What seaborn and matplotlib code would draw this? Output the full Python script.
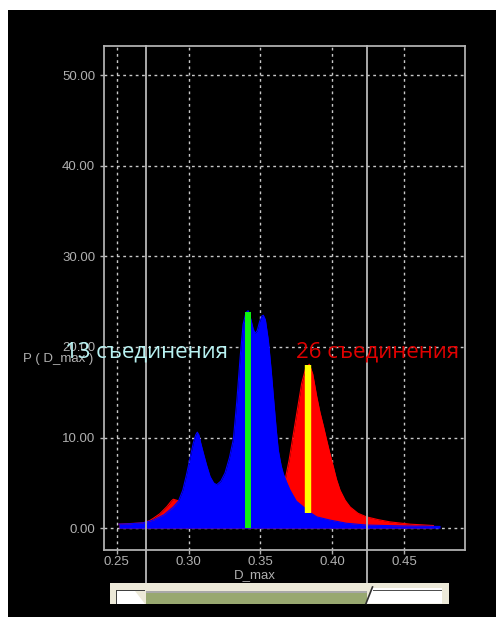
import numpy as np
import pandas as pd
import matplotlib
matplotlib.use("Agg")
import matplotlib.pyplot as plt
import matplotlib.patches as mpatches
import seaborn as sns

# ---- data -------------------------------------------------------------
blue_x = [0.2516, 0.2600, 0.2685, 0.2755, 0.2830, 0.2894, 0.2930, 0.2960,
          0.2987, 0.3010, 0.3033, 0.3050, 0.3061, 0.3072, 0.3085, 0.3103,
          0.3125, 0.3150, 0.3175, 0.3196, 0.3225, 0.3254, 0.3285, 0.3312,
          0.3336, 0.3360, 0.3380, 0.3400, 0.3415, 0.3435, 0.3450, 0.3463,
          0.3478, 0.3495, 0.3510, 0.3521, 0.3535, 0.3556, 0.3575, 0.3591,
          0.3610, 0.3625, 0.3645, 0.3660, 0.3685, 0.3707, 0.3750, 0.3800,
          0.3850, 0.3893, 0.3985, 0.4100, 0.4240, 0.4500, 0.4751]
blue_y = [0.45, 0.50, 0.60, 0.90, 1.50, 2.35, 3.00, 4.20,
          6.00, 7.70, 9.40, 10.3, 10.6, 10.3, 9.40, 8.30,
          7.00, 5.70, 5.00, 4.80, 5.20, 6.10, 7.80, 9.80,
          14.0, 19.0, 22.5, 23.8, 24.0, 23.0, 22.0, 21.5,
          21.8, 22.8, 23.4, 23.5, 23.0, 20.7, 17.5, 14.5,
          11.0, 8.60, 6.90, 6.00, 5.00, 4.20, 3.00, 2.35,
          1.70, 1.25, 0.90, 0.55, 0.35, 0.25, 0.20]

red_x = [0.2516, 0.2685, 0.2730, 0.2755, 0.2800, 0.2850, 0.2880, 0.2894,
         0.2915, 0.2935, 0.3000, 0.3200, 0.3400, 0.3600, 0.3672, 0.3700,
         0.3730, 0.3760, 0.3788, 0.3815, 0.3841, 0.3865, 0.3893, 0.3915,
         0.3940, 0.3962, 0.3985, 0.4008, 0.4030, 0.4055, 0.4090, 0.4125,
         0.4180, 0.4240, 0.4320, 0.4403, 0.4542, 0.4650, 0.4705]
red_y = [0.45, 0.60, 0.85, 1.10, 1.60, 2.40, 3.00, 3.20,
         3.10, 3.00, 2.50, 2.50, 2.50, 3.50, 5.30, 7.50,
         10.4, 13.3, 16.0, 17.6, 18.1, 17.0, 14.5, 12.8,
         11.2, 9.70, 8.20, 6.80, 5.40, 4.20, 3.10, 2.35,
         1.65, 1.25, 0.95, 0.70, 0.45, 0.35, 0.30]

green_marker = (0.3411, 23.9)
yellow_marker = (0.3834, 1.65, 18.0)
range_lines = [0.2704, 0.4242]
x_ticks = [0.25, 0.30, 0.35, 0.40, 0.45]
y_ticks = [0.0, 10.0, 20.0, 30.0, 40.0, 50.0]
labels = ["13 съединения", "26 съединения"]

# ---- figure -----------------------------------------------------------
W, H = 496, 617
fig = plt.figure(figsize=(W / 100, H / 100), dpi=100, facecolor="white")

def fx(px):
    return px / W

def fy(py):
    return 1 - py / H

# black panel
fig.patches.append(mpatches.Rectangle((fx(7.5), 0), 1, fy(10), transform=fig.transFigure,
                                      facecolor="black", edgecolor="none", zorder=-5))

L, R, T, B = 103.5, 465, 46, 550
ax = fig.add_axes([fx(L), fy(B), fx(R) - fx(L), fy(T) - fy(B)])
ax.set_facecolor("black")

df_b = pd.DataFrame({"x": blue_x, "y": blue_y})
df_r = pd.DataFrame({"x": red_x, "y": red_y})

ax.fill_between(df_r["x"], 0, df_r["y"], color="#FF0000", linewidth=0, zorder=2)
sns.lineplot(data=df_r, x="x", y="y", ax=ax, color="#FF0000", linewidth=0.8, zorder=2)
ax.fill_between(df_b["x"], 0, df_b["y"], color="#0000FF", linewidth=0, zorder=3)
sns.lineplot(data=df_b, x="x", y="y", ax=ax, color="#0000FF", linewidth=0.8, zorder=3)

ax.vlines(green_marker[0], 0, green_marker[1], color="#10F010", linewidth=4.3, zorder=4)
ax.vlines(yellow_marker[0], yellow_marker[1], yellow_marker[2], color="#FFFF00",
          linewidth=4.6, zorder=4)

ymin_frac = -(583 - B) / (B - T)
for xv in range_lines:
    ax.axvline(xv, ymin=ymin_frac, ymax=1, color="#B8B8B8", linewidth=1.3,
               clip_on=False, zorder=5)

ax.set_xlim(0.2408, 0.4925)
ax.set_ylim(-2.4, 53.2)
ax.set_xticks(x_ticks)
ax.set_yticks(y_ticks)
ax.set_xticklabels([f"{v:.2f}" for v in x_ticks])
ax.set_yticklabels([f"{v:.2f}" for v in y_ticks])
ax.grid(True, color="#C8C8C8", linestyle=(0, (2, 2.5)), linewidth=1.0, zorder=1)
ax.set_axisbelow(True)
ax.tick_params(colors="#B0B0B0", length=3, width=1, labelsize=9.5)
ax.tick_params(axis="x", pad=1.5)
ax.tick_params(axis="y", pad=3)
for lab in ax.get_xticklabels() + ax.get_yticklabels():
    lab.set_fontfamily("Liberation Sans")
for s in ax.spines.values():
    s.set_color("#B0B0B0")
    s.set_linewidth(1.3)
ax.set_xlabel("")
ax.set_ylabel("")

fig.text(fx(254.5), fy(575), "D_max", color="#B0B0B0", fontsize=9.5,
         family="Liberation Sans", ha="center", va="center")
fig.text(fx(23), fy(359), "P ( D_max )", color="#B0B0B0", fontsize=9.5,
         family="Liberation Sans", ha="left", va="center")

fig.text(fx(65), fy(357), labels[0], color="#B8F2F2", fontsize=16,
         family="Open Sans", ha="left", va="baseline", zorder=10)
fig.text(fx(296), fy(357), labels[1], color="#E00000", fontsize=16,
         family="Open Sans", ha="left", va="baseline", zorder=10)

# ---- slider ------------------------------------------------------------
def rect(x0, y0, x1, y1, color, z=6):
    fig.patches.append(mpatches.Rectangle((fx(x0), fy(y1)), fx(x1) - fx(x0), fy(y0) - fy(y1),
                                          transform=fig.transFigure, facecolor=color,
                                          edgecolor="none", zorder=z))

def poly(pts, color, z=7):
    fig.patches.append(mpatches.Polygon([(fx(a), fy(b)) for a, b in pts], closed=True,
                                        transform=fig.transFigure, facecolor=color,
                                        edgecolor="none", zorder=z))

rect(110, 583, 449, 603.5, "#ECE9D8")
rect(116, 590, 145, 603.5, "white", 7)
rect(116, 590, 145, 591.3, "#404040", 8)
rect(116, 590, 117.3, 603.5, "#404040", 8)
poly([(135, 591.3), (145, 591.3), (145, 603.5)], "#ECE9D8", 8)
rect(146, 590.5, 367, 592.5, "#A8A8A8", 7)
rect(146, 592.5, 367, 603.5, "#98A870", 7)
poly([(366, 603.5), (372.5, 588), (442, 588), (442, 603.5)], "white", 7)
rect(373, 589.5, 442, 591, "#505050", 8)
fig.add_artist(plt.Line2D([fx(366), fx(372.5)], [fy(603.5), fy(587)], color="#303030",
                          linewidth=1.2, transform=fig.transFigure, zorder=9))

fig.savefig("out.png", dpi=100, facecolor="white")
